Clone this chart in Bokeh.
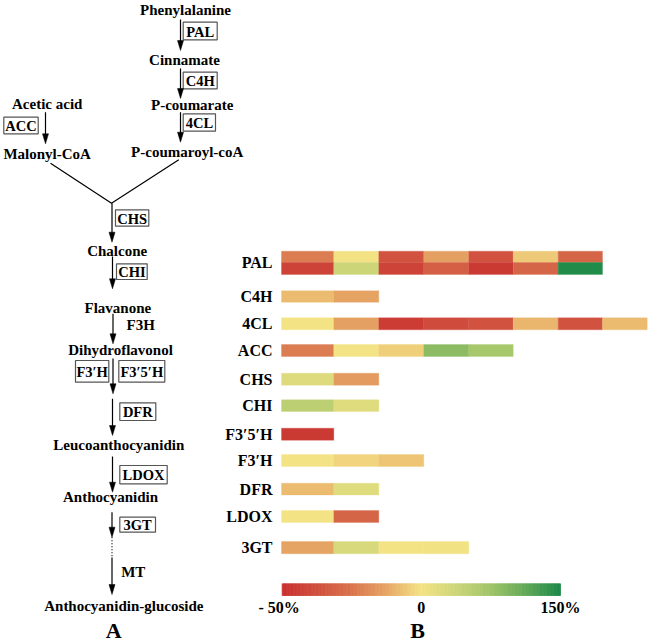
from bokeh.plotting import figure
from bokeh.models import Range1d
from bokeh.core.properties import value
from bokeh.embed import file_html
from bokeh.resources import INLINE

# ---------------- DATA (percent change) ----------------
row_labels = ["PAL", "", "C4H", "4CL", "ACC", "CHS", "CHI", "F3′5′H", "F3′H", "DFR", "LDOX", "3GT"]
pal_1 = [-23, 2, -36, -14, -36, -5, -30]
pal_2 = [-42, 38, -42, -32, -46, -30, 147]
c4h = [-8, -13]
cl4 = [0, -14, -45, -39, -36, -9, -36, -8]
acc = [-23, 1, -4, 87, 69]
chs = [22, -15]
chi = [52, 20]
f35h = [-46]
f3h = [0, -3, -6]
dfr = [-8, 20]
ldox = [0, -30]
gt3 = [-13, 28, 1, 3]
rows = [pal_1, pal_2, c4h, cl4, acc, chs, chi, f35h, f3h, dfr, ldox, gt3]
cbar_ticks = [-50, 0, 150]
cbar_tick_labels = ["- 50%", "0", "150%"]

# ---------------- LAYOUT ----------------
W, H = 648, 642
col_edges = [281, 333.3, 378.3, 423.3, 468.3, 512.7, 557.7, 602, 646.7]
row_tops = [250.7, 262, 290.3, 317.3, 344, 372.7, 399.3, 427.7, 454, 482.7, 510, 541]
row_h = [11.3, 12, 11.5, 12, 12, 12, 11.7, 12, 12, 11.8, 12, 12.3]
label_y = [262, None, 296, 323.3, 350, 378.7, 405, 433.7, 460, 488.5, 516, 547]
cbar_x0, cbar_x1, cbar_y0, cbar_y1 = 281.7, 560, 583.3, 595

stops = [(0.0, "#c92f2f"), (0.125, "#d04f3d"), (0.25, "#d9744d"), (0.375, "#e6a565"),
         (0.5, "#f4e384"), (0.625, "#cdd679"), (0.75, "#a0c468"), (0.875, "#62a957"),
         (1.0, "#1b8848")]


def hex2rgb(h):
    return tuple(int(h[i:i + 2], 16) for i in (1, 3, 5))


def interp(t):
    t = max(0.0, min(1.0, t))
    for (t0, c0), (t1, c1) in zip(stops[:-1], stops[1:]):
        if t <= t1:
            f = (t - t0) / (t1 - t0) if t1 > t0 else 0
            a, b = hex2rgb(c0), hex2rgb(c1)
            return "#%02x%02x%02x" % tuple(round(a[i] + (b[i] - a[i]) * f) for i in range(3))
    return stops[-1][1]


def val2t(v):
    lo, mid, hi = cbar_ticks
    if v < mid:
        return 0.5 * (v - lo) / (mid - lo)
    return 0.5 + 0.5 * (v - mid) / (hi - mid)


def t2x(t):
    return cbar_x0 + t * (cbar_x1 - cbar_x0)


p = figure(width=W, height=H, x_range=Range1d(0, W), y_range=Range1d(H, 0),
           output_backend="svg", toolbar_location=None, min_border=0,
           x_axis_type=None, y_axis_type=None)
p.grid.visible = False
p.outline_line_color = None
p.background_fill_color = "white"

FONT = value("Liberation Serif")

# ---------------- heatmap ----------------
L, R, T, B, C = [], [], [], [], []
for i, vals in enumerate(rows):
    for j, v in enumerate(vals):
        L.append(col_edges[j]); R.append(col_edges[j + 1])
        T.append(row_tops[i]); B.append(row_tops[i] + row_h[i])
        C.append(interp(val2t(v)))
p.quad(left=L, right=R, top=T, bottom=B, fill_color=C, line_color=C, line_width=0.3)

lx, ly, lt = [], [], []
for i, lab in enumerate(row_labels):
    if lab:
        lx.append(272); ly.append(label_y[i]); lt.append(lab)
p.text(x=lx, y=ly, text=lt, text_align="right", text_baseline="middle",
       text_font=FONT, text_font_style="bold", text_font_size="16px", text_color="black")

# colour bar
n = 200
cl, cr, cc = [], [], []
for k in range(n):
    t0, t1 = k / n, (k + 1) / n
    cl.append(t2x(t0)); cr.append(t2x(t1)); cc.append(interp((t0 + t1) / 2))
p.quad(left=cl, right=cr, top=cbar_y0, bottom=cbar_y1, fill_color=cc, line_color=cc,
       line_width=0.8)
p.text(x=[t2x(val2t(v)) - (3 if v < 0 else 0) for v in cbar_ticks], y=[606.5] * 3,
       text=cbar_tick_labels, text_align="center", text_baseline="middle",
       text_font=FONT, text_font_style="bold", text_font_size="16px", text_color="black")

# panel letters
p.text(x=[113.3, 417], y=[630, 630], text=["A", "B"], text_align="center",
       text_baseline="middle", text_font=FONT, text_font_style="bold",
       text_font_size="22px", text_color="black")

# ---------------- pathway ----------------
metab = [("Phenylalanine", 185, 9.5), ("Cinnamate", 184, 59.3), ("P-coumarate", 191.7, 104.3),
         ("P-coumaroyl-coA", 186.7, 151.7), ("Acetic acid", 46.7, 103.3),
         ("Malonyl-CoA", 46.7, 153.3), ("Chalcone", 116.7, 250), ("Flavanone", 117.3, 307.3),
         ("Dihydroflavonol", 120, 349.3), ("Leucoanthocyanidin", 118.3, 444),
         ("Anthocyanidin", 110, 496.7), ("Anthocyanidin-glucoside", 123.3, 605)]
p.text(x=[m[1] for m in metab], y=[m[2] for m in metab], text=[m[0] for m in metab],
       text_align="center", text_baseline="middle", text_font=FONT,
       text_font_style="bold", text_font_size="15px", text_color="black")
p.text(x=[126, 120.7], y=[324.3, 571.7], text=["F3H", "MT"], text_align="left",
       text_baseline="middle", text_font=FONT, text_font_style="bold",
       text_font_size="15px", text_color="black")

boxes = [("PAL", 182.7, 216.7, 21.7, 39.3), ("C4H", 182.7, 216.7, 71.7, 88.3),
         ("4CL", 182.7, 215, 113.3, 130.7), ("ACC", 3.3, 37.7, 116.7, 133.3),
         ("CHS", 115, 148.3, 209.3, 225.7), ("CHI", 116, 146.7, 263.3, 279),
         ("F3′H", 75, 108.3, 360, 381.7), ("F3′5′H", 118.3, 164.3, 360, 381.7),
         ("DFR", 119.3, 155.3, 402.3, 420), ("LDOX", 119.3, 166.7, 465, 483.3),
         ("3GT", 119.3, 155, 516.7, 531.7)]
p.quad(left=[b[1] for b in boxes], right=[b[2] for b in boxes], top=[b[3] for b in boxes],
       bottom=[b[4] for b in boxes], fill_color=None, line_color="#555555", line_width=1.2)
p.text(x=[(b[1] + b[2]) / 2 for b in boxes], y=[(b[3] + b[4]) / 2 + 0.5 for b in boxes],
       text=[b[0] for b in boxes], text_align="center", text_baseline="middle",
       text_font=FONT, text_font_style="bold", text_font_size="14.5px", text_color="black")

arrows = [(180, 19, 50), (180, 68, 98), (180, 111.7, 141.7), (45, 111.7, 143.3),
          (111.5, 202.7, 241.7), (112, 256, 288.3), (112.5, 313.3, 343.3),
          (112.5, 358, 393.3), (112, 398.3, 435), (112, 456, 491.7),
          (111.5, 511.7, 536.7), (111.5, 557, 594)]
hl = 10
p.segment(x0=[a[0] for a in arrows], y0=[a[1] for a in arrows], x1=[a[0] for a in arrows],
          y1=[a[2] - hl + 1 for a in arrows], line_color="black", line_width=1.2)
p.patches(xs=[[a[0] - 3, a[0], a[0] + 3] for a in arrows],
          ys=[[a[2] - hl, a[2], a[2] - hl] for a in arrows],
          fill_color="black", line_color="black", line_width=0.5)
p.segment(x0=[111.5], y0=[536.7], x1=[111.5], y1=[557], line_color="black",
          line_width=1.2, line_dash="1 2")
p.line(x=[50, 111, 178.3], y=[162.7, 202.7, 159.3], line_color="black", line_width=1.2)

open("out.html", "w").write(file_html(p, INLINE))
